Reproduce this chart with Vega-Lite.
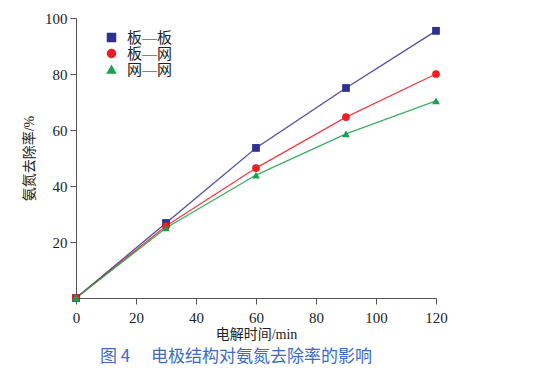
{
  "$schema": "https://vega.github.io/schema/vega-lite/v6.json",
  "autosize": "none",
  "width": 360,
  "height": 280,
  "padding": {"left": 76, "top": 18, "right": 98, "bottom": 75},
  "background": "white",
  "config": {
    "view": {"stroke": null},
    "font": "Liberation Serif",
    "axis": {"grid": false, "domainColor": "#555", "tickColor": "#555", "labelColor": "#222", "titleColor": "#222", "labelFont": "Liberation Serif", "titleFont": "Liberation Serif, Noto Sans CJK SC", "labelFontSize": 15, "titleFontSize": 14, "titleFontWeight": "normal"}
  },
  "title": {"text": "图 4\u3000 电极结构对氨氮去除率的影响", "orient": "bottom", "anchor": "middle", "dx": -20, "offset": 8, "font": "Noto Sans CJK SC", "fontSize": 17, "fontWeight": "normal", "color": "#3a6cc4"},
  "data": {"values": [
    {"t": 0, "r": 0, "s": "板—板"},
    {"t": 30, "r": 26.8, "s": "板—板"},
    {"t": 60, "r": 53.6, "s": "板—板"},
    {"t": 90, "r": 75, "s": "板—板"},
    {"t": 120, "r": 95.4, "s": "板—板"},
    {"t": 0, "r": 0, "s": "板—网"},
    {"t": 30, "r": 25.7, "s": "板—网"},
    {"t": 60, "r": 46.4, "s": "板—网"},
    {"t": 90, "r": 64.6, "s": "板—网"},
    {"t": 120, "r": 80, "s": "板—网"},
    {"t": 0, "r": 0, "s": "网—网"},
    {"t": 30, "r": 25, "s": "网—网"},
    {"t": 60, "r": 43.9, "s": "网—网"},
    {"t": 90, "r": 58.6, "s": "网—网"},
    {"t": 120, "r": 70.4, "s": "网—网"}
  ]},
  "encoding": {
    "x": {"field": "t", "type": "quantitative", "scale": {"domain": [0, 120], "nice": false}, "axis": {"values": [0, 20, 40, 60, 80, 100, 120], "title": "电解时间/min", "tickSize": 6, "labelFlush": false, "labelPadding": 6, "titlePadding": 2}},
    "y": {"field": "r", "type": "quantitative", "scale": {"domain": [0, 100], "nice": false}, "axis": {"values": [20, 40, 60, 80, 100], "title": "氨氮去除率/%", "tickSize": 6, "labelPadding": 3, "titlePadding": 8}},
    "color": {"field": "s", "type": "nominal", "scale": {"domain": ["板—板", "板—网", "网—网"], "range": ["#2e3192", "#ee1c25", "#1aa04a"]}, "legend": {"title": null, "orient": "none", "legendX": 28, "legendY": 12, "labelFont": "Liberation Serif, Noto Sans CJK SC", "labelFontSize": 15, "labelColor": "#222", "symbolSize": 64, "rowPadding": 0, "labelOffset": 8, "symbolOpacity": 1}}
  },
  "layer": [
    {
      "mark": {"type": "line", "strokeWidth": 1.3, "strokeOpacity": 0.85}
    },
    {
      "mark": {"type": "point", "filled": true, "opacity": 1, "size": 60},
      "encoding": {
        "shape": {"field": "s", "type": "nominal", "scale": {"domain": ["板—板", "板—网", "网—网"], "range": ["square", "circle", "triangle-up"]}}
      }
    }
  ]
}
